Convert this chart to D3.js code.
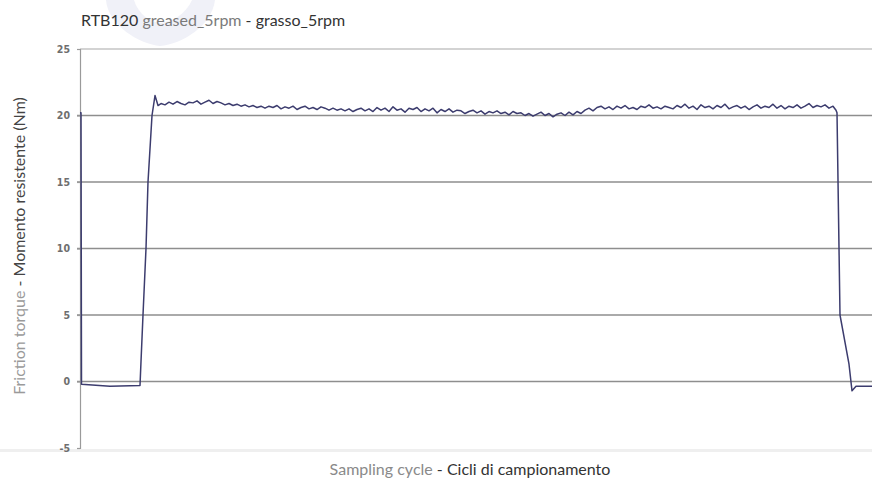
<!DOCTYPE html>
<html><head><meta charset="utf-8">
<script src="https://cdn.jsdelivr.net/npm/d3@7/dist/d3.min.js"></script>
<style>
html,body{margin:0;padding:0;background:#fff;}
svg{display:block;}
</style></head>
<body>
<svg id="chart" width="872" height="483"></svg>
<script>
// ---- data ----
const titleParts = ["RTB120", " greased_5rpm", " - grasso_5rpm"];
const yLabelParts = ["Friction torque", " - Momento resistente (Nm)"];
const xLabelParts = ["Sampling cycle", " - Cicli di campionamento"];
const yTicks = [-5, 0, 5, 10, 15, 20, 25];

// start-up ramp (cycle, torque)
const rampCycles = [0, 1, 1.5, 30, 60, 61, 63, 66, 68, 72, 75, 78];
const rampTorque = [20.2, 20.2, -0.2, -0.35, -0.3, 1.5, 5, 10, 15, 20, 21.5, 20.75];

// steady plateau, one reading every 4 cycles starting at cycle 81
const plateauStart = 81;
const plateauStep = 4;
const plateauTorque = [
  20.9, 20.8, 21.0, 20.85, 21.05, 20.9, 20.8, 21.0, 20.95, 21.1, 20.85, 21.0, 21.15, 20.9, 21.05, 20.95, 20.8, 20.9, 20.75, 20.85, 20.7, 20.8, 20.65,
  20.75, 20.6, 20.7, 20.55, 20.7, 20.6, 20.75, 20.5, 20.65, 20.55, 20.7, 20.45, 20.6, 20.7, 20.5, 20.6, 20.45, 20.65, 20.55, 20.4,
  20.55, 20.4, 20.5, 20.35, 20.5, 20.3, 20.45, 20.55, 20.35, 20.5, 20.3, 20.6, 20.4, 20.55, 20.3, 20.65, 20.4, 20.5, 20.25, 20.55, 20.45, 20.6, 20.3, 20.5, 20.35, 20.55, 20.2, 20.45, 20.3, 20.5, 20.25, 20.4,
  20.35, 20.15, 20.3, 20.4, 20.2, 20.35, 20.1, 20.3, 20.2, 20.35, 20.15, 20.25, 20.05, 20.3, 20.15,
  20.2, 20.0, 20.15, 19.95, 20.1, 20.25, 20.0, 20.15, 19.9, 20.1, 20.2, 20.0, 20.25, 20.05, 20.3, 20.15,
  20.4, 20.55, 20.35, 20.6, 20.7, 20.5, 20.65, 20.45, 20.7, 20.55, 20.75, 20.5, 20.6, 20.45, 20.7, 20.6, 20.8, 20.55, 20.65, 20.5, 20.7, 20.6, 20.5, 20.75, 20.6, 20.85, 20.55, 20.7, 20.45, 20.8, 20.6, 20.7, 20.5, 20.75, 20.6, 20.85, 20.5, 20.65, 20.75, 20.55, 20.7, 20.45, 20.65, 20.8, 20.55, 20.7, 20.6, 20.85, 20.55, 20.75, 20.5, 20.7, 20.6, 20.8, 20.55, 20.7, 20.9, 20.6, 20.75, 20.65, 20.8, 20.55, 20.7
];

// shut-down drop (cycle, torque)
const dropCycles = [756, 757, 760, 769, 772, 776, 792];
const dropTorque = [20.4, 20.2, 5, 1.3, -0.7, -0.35, -0.35];

const xDomain = [0, 792];

// ---- build series ----
const series = [];
rampCycles.forEach((c, i) => series.push([c, rampTorque[i]]));
plateauTorque.forEach((v, i) => series.push([plateauStart + i * plateauStep, v]));
dropCycles.forEach((c, i) => series.push([c, dropTorque[i]]));

// ---- layout ----
const svg = d3.select("#chart");
const W = 872, H = 483;
const m = {left: 80, top: 49};
const plotBottom = 448;
const labelFont = "Lato, 'Open Sans', sans-serif";

const x = d3.scaleLinear().domain(xDomain).range([m.left, W]);
const y = d3.scaleLinear().domain([-5, 25]).range([plotBottom, m.top]);

// faint watermark
svg.append("path")
  .attr("d", "M106,0 C108,26 140,44 160,46 C182,44 212,26 215,0 Z")
  .attr("fill", "#f0f1f8");
svg.append("path")
  .attr("d", "M134,0 C138,14 150,22 160,23 C172,22 186,14 192,0 Z")
  .attr("fill", "#ffffff");

// faint scan edge at bottom
svg.append("rect").attr("x", 0).attr("y", 449).attr("width", W).attr("height", 3)
  .attr("fill", "#efefef");

// top border
svg.append("line").attr("x1", m.left).attr("x2", W)
  .attr("y1", y(25)).attr("y2", y(25))
  .attr("stroke", "#c4c4c4").attr("stroke-width", 1.3);

// gridlines
svg.append("g").selectAll("line")
  .data(yTicks.filter(t => t > -5 && t < 25))
  .join("line")
  .attr("x1", m.left - 3).attr("x2", W)
  .attr("y1", d => y(d)).attr("y2", d => y(d))
  .attr("stroke", "#8e8e8e").attr("stroke-width", 1.4);

// y axis
const yAxis = d3.axisLeft(y).tickValues(yTicks).tickSize(3).tickPadding(7)
  .tickFormat(d => String(d));
const gy = svg.append("g").attr("transform", `translate(${m.left},0)`).call(yAxis);
gy.select(".domain").attr("stroke", "#9a9a9a").attr("stroke-width", 1.2);
gy.selectAll(".tick line").attr("stroke", "#9a9a9a").attr("stroke-width", 1.2);
gy.selectAll(".tick text")
  .attr("font-family", "'DejaVu Sans Condensed', 'DejaVu Sans', sans-serif")
  .attr("font-weight", "bold")
  .attr("font-size", 10.5).attr("fill", "#6e6e6e");

// data line
svg.append("clipPath").attr("id", "clip").append("rect")
  .attr("x", m.left).attr("y", 0).attr("width", W - m.left).attr("height", H);
svg.append("path")
  .datum(series)
  .attr("clip-path", "url(#clip)")
  .attr("fill", "none")
  .attr("stroke", "#3c3c6e")
  .attr("stroke-width", 1.5)
  .attr("stroke-linejoin", "round")
  .attr("d", d3.line().x(d => x(d[0])).y(d => y(d[1])));

// title
const tt = svg.append("text").attr("x", 81).attr("y", 26)
  .attr("font-family", labelFont).attr("font-size", 16);
tt.append("tspan").text(titleParts[0]).attr("fill", "#333");
tt.append("tspan").text(titleParts[1]).attr("fill", "#7a7a7a");
tt.append("tspan").text(titleParts[2]).attr("fill", "#333");

// y label
const yl = svg.append("text")
  .attr("transform", "translate(25,246) rotate(-90)")
  .attr("text-anchor", "middle")
  .attr("font-family", labelFont).attr("font-size", 16);
yl.append("tspan").text(yLabelParts[0]).attr("fill", "#9a9a9a");
yl.append("tspan").text(yLabelParts[1]).attr("fill", "#444");

// x label
const xl = svg.append("text").attr("x", 470).attr("y", 475)
  .attr("text-anchor", "middle")
  .attr("font-family", labelFont).attr("font-size", 16);
xl.append("tspan").text(xLabelParts[0]).attr("fill", "#8a8a8a");
xl.append("tspan").text(xLabelParts[1]).attr("fill", "#333");
</script>
</body></html>
